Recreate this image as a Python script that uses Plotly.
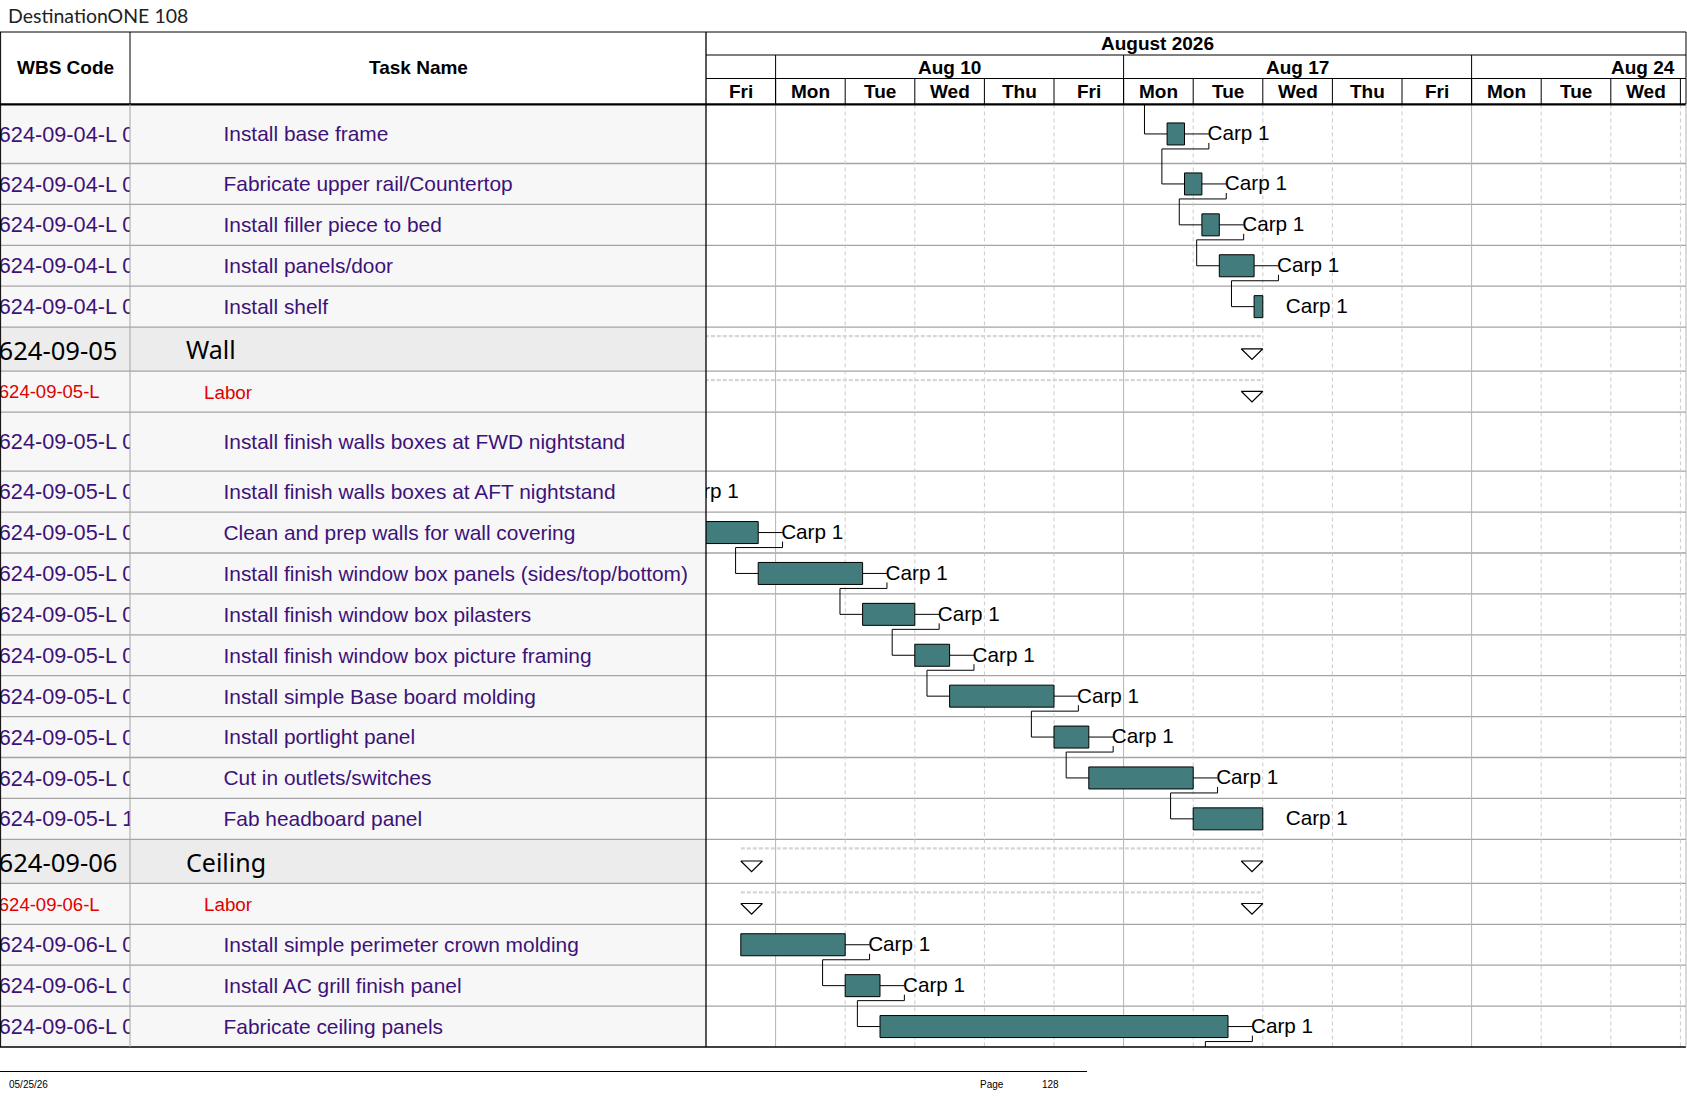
import plotly.graph_objects as go

# ---------------- data ----------------
title_text = "DestinationONE 108"
month_label = "August 2026"
month_label_day = 6.48
week_labels = ["Aug 10", "Aug 17", "Aug 24"]
week_start_days = [1, 6, 11]
day_labels = ["Fri", "Mon", "Tue", "Wed", "Thu", "Fri", "Mon",
              "Tue", "Wed", "Thu", "Fri", "Mon", "Tue", "Wed"]

row_types = (["task"] * 5 + ["summary", "labor"] + ["task"] * 10 +
             ["summary", "labor"] + ["task"] * 3)
wbs_codes = [
    "624-09-04-L 05", "624-09-04-L 06", "624-09-04-L 07", "624-09-04-L 08", "624-09-04-L 09",
    "624-09-05", "624-09-05-L",
    "624-09-05-L 01", "624-09-05-L 02", "624-09-05-L 03", "624-09-05-L 04", "624-09-05-L 05",
    "624-09-05-L 06", "624-09-05-L 07", "624-09-05-L 08", "624-09-05-L 09", "624-09-05-L 10",
    "624-09-06", "624-09-06-L",
    "624-09-06-L 01", "624-09-06-L 02", "624-09-06-L 03",
]
task_names = [
    "Install base frame", "Fabricate upper rail/Countertop", "Install filler piece to bed",
    "Install panels/door", "Install shelf",
    "Wall", "Labor",
    "Install finish walls boxes at FWD nightstand", "Install finish walls boxes at AFT nightstand",
    "Clean and prep walls for wall covering", "Install finish window box panels (sides/top/bottom)",
    "Install finish window box pilasters", "Install finish window box picture framing",
    "Install simple Base board molding", "Install portlight panel", "Cut in outlets/switches",
    "Fab headboard panel",
    "Ceiling", "Labor",
    "Install simple perimeter crown molding", "Install AC grill finish panel",
    "Fabricate ceiling panels",
]
# start in working days from Fri Aug 7 (0 = start of Fri), duration in working days
start_days = [6.625, 6.875, 7.125, 7.375, 7.875,
              -2.0, -2.0,
              -1.75, -1.25, -0.75, 0.75, 2.25, 3.0, 3.5, 5.0, 5.5, 7.0,
              0.5, 0.5,
              0.5, 2.0, 2.5]
durations = [0.25, 0.25, 0.25, 0.5, 0.125,
             10.0, 10.0,
             0.5, 0.5, 1.5, 1.5, 0.75, 0.5, 1.5, 0.5, 1.5, 1.0,
             7.5, 7.5,
             1.5, 0.5, 5.0]
resources = ["Carp 1"] * 22
predecessors = [None, 0, 1, 2, 3,
                None, None,
                None, 7, 8, 9, 10, 11, 12, 13, 14, 15,
                None, None,
                None, 19, 20]
offscreen_pred_rows = [0]
offscreen_succ_rows = [21]
offscreen_succ_starts = [7.5]

# ---------------- layout geometry ----------------
W, H = 1687, 1097
TOP, MONTH_B, WEEK_B, HEAD_B = 32, 55, 78.5, 104.4
X_WBS, X_CHART, X_RIGHT = 130, 706, 1686
DAY_PX = 69.6
XR = (X_RIGHT - X_CHART) / DAY_PX
row_heights = {"task": 40.9, "summary": 44.1, "labor": 40.9}
tall_rows = [0, 7]
BAR_H = 22
G_LABEL = 0.35
G_IN = 0.325
TRI_W = 21.6 / DAY_PX
TRI_H = 10.7

row_top, row_bot = [], []
y = HEAD_B
for i, t in enumerate(row_types):
    h = 59.1 if i in tall_rows else row_heights[t]
    row_top.append(y)
    y += h
    row_bot.append(y)
TABLE_B = y
row_mid = [(a + b) / 2 for a, b in zip(row_top, row_bot)]


def P(px):
    return px / W


PURPLE = "#3d1279"
RED = "#e00000"
BAR_FILL = "#437c7c"
ARIAL = "Liberation Sans, Arial, sans-serif"

fig = go.Figure()
shapes = []

# row backgrounds in table
for i, t in enumerate(row_types):
    shapes.append(dict(type="rect", xref="paper", yref="y", x0=0, x1=P(X_CHART),
                       y0=row_top[i], y1=row_bot[i], line=dict(width=0),
                       fillcolor="#ececec" if t == "summary" else "#f7f7f7", layer="below"))

# chart vertical gridlines
for d in range(1, int(XR) + 1):
    solid = d in week_start_days
    shapes.append(dict(type="line", xref="x", yref="y", x0=d, x1=d, y0=HEAD_B, y1=TABLE_B,
                       line=dict(color="#b4b4b4" if solid else "#cacaca", width=1,
                                 dash="solid" if solid else "4px,3px"), layer="below"))

# row separators
for i in range(len(row_types) - 1):
    shapes.append(dict(type="line", xref="paper", yref="y", x0=0, x1=P(X_RIGHT),
                       y0=row_bot[i], y1=row_bot[i], line=dict(color="#a4a4a4", width=1.3),
                       layer="below"))


def hline(yv, x0, x1, color="black", width=1):
    shapes.append(dict(type="line", xref="paper", yref="y", x0=P(x0), x1=P(x1),
                       y0=yv, y1=yv, line=dict(color=color, width=width)))


def vline(xv, y0, y1, color="black", width=1):
    shapes.append(dict(type="line", xref="paper", yref="y", x0=P(xv), x1=P(xv),
                       y0=y0, y1=y1, line=dict(color=color, width=width)))


hline(TOP, 0, X_RIGHT)
hline(MONTH_B, X_CHART, X_RIGHT)
hline(WEEK_B, X_CHART, X_RIGHT)
hline(HEAD_B, 0, X_RIGHT, width=2.2)
hline(TABLE_B, 0, X_RIGHT, width=1.5)
vline(0.6, TOP, TABLE_B)
vline(X_WBS, TOP, HEAD_B)
vline(X_WBS, HEAD_B, TABLE_B, color="#a4a4a4")
vline(X_CHART, TOP, TABLE_B, width=1.3)
vline(X_RIGHT, TOP, HEAD_B)
vline(X_RIGHT, HEAD_B, TABLE_B, color="#b4b4b4")
for d in week_start_days:
    shapes.append(dict(type="line", xref="x", yref="y", x0=d, x1=d, y0=MONTH_B, y1=HEAD_B,
                       line=dict(color="black", width=1)))
for d in range(1, int(XR) + 1):
    shapes.append(dict(type="line", xref="x", yref="y", x0=d, x1=d, y0=WEEK_B, y1=HEAD_B,
                       line=dict(color="black", width=1)))
# footer line
hline(1071.5, 0, 1087, width=1)

# ---------------- summary bars ----------------
sum_x, sum_y, tri_x, tri_y = [], [], [], []
for i, t in enumerate(row_types):
    if t == "task":
        continue
    s, e = start_days[i], start_days[i] + durations[i]
    yl = row_top[i] + 9
    sum_x += [s, e, None]
    sum_y += [yl, yl, None]
    tc = row_mid[i] + 5
    for left in (s, e - TRI_W):
        tri_x += [left, left + TRI_W, left + TRI_W / 2, left, None]
        tri_y += [tc - TRI_H / 2, tc - TRI_H / 2, tc + TRI_H / 2, tc - TRI_H / 2, None]
fig.add_trace(go.Scatter(x=sum_x, y=sum_y, mode="lines", hoverinfo="skip",
                         line=dict(color="#d6d6d6", width=2.2, dash="4px,2px")))
fig.add_trace(go.Scatter(x=tri_x, y=tri_y, mode="lines", hoverinfo="skip",
                         line=dict(color="black", width=1.2)))

# ---------------- links ----------------
lx, ly = [], []
for b, a in enumerate(predecessors):
    if a is None:
        continue
    ea = start_days[a] + durations[a]
    sb = start_days[b]
    ma, mb = row_mid[a], row_mid[b]
    lev = ma + BAR_H / 2 + 4
    lx += [ea, ea + G_LABEL, None, ea + G_LABEL, ea + G_LABEL, sb - G_IN, sb - G_IN, sb, None]
    ly += [ma, ma, None, ma + 9, lev, lev, mb, mb, None]
for r in offscreen_pred_rows:
    sb = start_days[r]
    lx += [sb - G_IN, sb - G_IN, sb, None]
    ly += [HEAD_B, row_mid[r], row_mid[r], None]
for r, ns in zip(offscreen_succ_rows, offscreen_succ_starts):
    ea = start_days[r] + durations[r]
    ma = row_mid[r]
    lev = ma + BAR_H / 2 + 4
    lx += [ea, ea + G_LABEL, None, ea + G_LABEL, ea + G_LABEL, ns - G_IN, ns - G_IN, None]
    ly += [ma, ma, None, ma + 9, lev, lev, TABLE_B, None]
fig.add_trace(go.Scatter(x=lx, y=ly, mode="lines", hoverinfo="skip",
                         line=dict(color="black", width=1)))

# ---------------- task bars ----------------
ti = [i for i, t in enumerate(row_types) if t == "task"]
fig.add_trace(go.Bar(
    y=[row_mid[i] for i in ti], x=[durations[i] for i in ti], base=[start_days[i] for i in ti],
    orientation="h", width=BAR_H, hoverinfo="skip",
    marker=dict(color=BAR_FILL, line=dict(color="black", width=1))))
fig.add_trace(go.Scatter(
    x=[start_days[i] + durations[i] + G_LABEL - 0.02 for i in ti],
    y=[row_mid[i] + 1.2 for i in ti],
    mode="text", text=[resources[i] for i in ti], textposition="middle right",
    textfont=dict(family=ARIAL, size=20.7, color="black"), cliponaxis=True, hoverinfo="skip"))


# ---------------- table text ----------------
def col_text(axis, xs, idx, texts, family, size, color, dy):
    fig.add_trace(go.Scatter(
        x=xs, y=[row_mid[i] + dy for i in idx], xaxis=axis, yaxis="y", mode="text",
        text=texts, textposition="middle right", cliponaxis=True, hoverinfo="skip",
        textfont=dict(family=family, size=size, color=color)))


li = [i for i, t in enumerate(row_types) if t == "labor"]
si = [i for i, t in enumerate(row_types) if t == "summary"]
col_text("x2", [-1.2] * len(ti), ti, [wbs_codes[i] for i in ti], ARIAL, 21.7, PURPLE, 2.2)
col_text("x2", [-1.2] * len(li), li, [wbs_codes[i] for i in li], ARIAL, 18.5, RED, 2.2)
col_text("x2", [-1.5] * len(si), si, [wbs_codes[i] for i in si], "Noto Sans", 25.6, "black", 4)
col_text("x3", [223.5] * len(ti), ti, [task_names[i] for i in ti], ARIAL, 20.9, PURPLE, 2.2)
col_text("x3", [204] * len(li), li, [task_names[i] for i in li], ARIAL, 18.8, RED, 2.2)
col_text("x3", [186] * len(si), si, [task_names[i] for i in si], "Noto Sans", 25, "black", 4)

# ---------------- header annotations ----------------
ann = []
hdr_font = dict(family=ARIAL, size=19, color="black")
ann.append(dict(xref="paper", yref="y", x=P(65), y=67, xanchor="center", text="<b>WBS Code</b>",
                showarrow=False, font=hdr_font))
ann.append(dict(xref="paper", yref="y", x=P(418), y=67, xanchor="center", text="<b>Task Name</b>",
                showarrow=False, font=hdr_font))
ann.append(dict(xref="x", yref="y", x=month_label_day, y=(TOP + MONTH_B) / 2,
                xanchor="center", text="<b>" + month_label + "</b>", showarrow=False, font=hdr_font))
for k, (lab, ws) in enumerate(zip(week_labels, week_start_days)):
    we = ws + 5
    if we <= XR:
        ann.append(dict(xref="x", yref="y", x=ws + 2.5, y=(MONTH_B + WEEK_B) / 2 + 0.5,
                        xanchor="center", text="<b>" + lab + "</b>", showarrow=False,
                        font=hdr_font))
    else:
        ann.append(dict(xref="x", yref="y", x=XR - 0.13, y=(MONTH_B + WEEK_B) / 2 + 0.5,
                        xanchor="right", text="<b>" + lab + "</b>", showarrow=False,
                        font=hdr_font))
for d, lab in enumerate(day_labels):
    ann.append(dict(xref="x", yref="y", x=d + 0.5, y=(WEEK_B + HEAD_B) / 2,
                    xanchor="center", text="<b>" + lab + "</b>", showarrow=False, font=hdr_font))
ann.append(dict(xref="paper", yref="y", x=P(6), y=15, xanchor="left", text=title_text,
                showarrow=False, font=dict(family="Lato, sans-serif", size=19.5, color="#222")))
foot_font = dict(family=ARIAL, size=10, color="black")
ann.append(dict(xref="paper", yref="y", x=P(7), y=1084, xanchor="left", text="05/25/26",
                showarrow=False, font=foot_font))
ann.append(dict(xref="paper", yref="y", x=P(978), y=1084, xanchor="left", text="Page",
                showarrow=False, font=foot_font))
ann.append(dict(xref="paper", yref="y", x=P(1040), y=1084, xanchor="left", text="128",
                showarrow=False, font=foot_font))

hidden = dict(visible=False, fixedrange=True, showgrid=False, zeroline=False)
fig.update_layout(
    width=W, height=H, margin=dict(l=0, r=0, t=0, b=0),
    paper_bgcolor="white", plot_bgcolor="rgba(0,0,0,0)",
    showlegend=False, barmode="overlay",
    xaxis=dict(domain=[P(X_CHART), P(X_RIGHT)], range=[0, XR], anchor="y", **hidden),
    xaxis2=dict(domain=[0, P(X_WBS)], range=[0, X_WBS], anchor="y", **hidden),
    xaxis3=dict(domain=[P(X_WBS), P(X_CHART)], range=[X_WBS, X_CHART], anchor="y", **hidden),
    yaxis=dict(domain=[0, 1], range=[H, 0], **hidden),
    shapes=shapes, annotations=ann,
)
fig.write_html("out.html", config={"displayModeBar": False},
               post_script="document.body.style.margin='0px';document.body.style.padding='0px';"
                           "document.body.style.overflow='hidden';")
